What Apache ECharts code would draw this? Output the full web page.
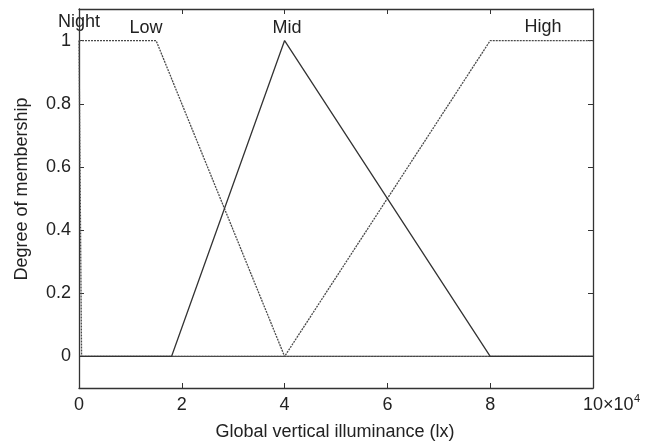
<!DOCTYPE html>
<html>
<head>
<meta charset="utf-8">
<script src="https://cdn.jsdelivr.net/npm/echarts@6/dist/echarts.min.js"></script>
<style>
  html, body { margin: 0; padding: 0; background: #fff; }
  #main { width: 653px; height: 444px; }
</style>
</head>
<body>
<div id="main"></div>
<script>
// membership functions, x in units of 10^4 lx
var nightPts = [[0, 1], [0.05, 0], [10, 0]];
var lowPts = [[0, 1], [1.5, 1], [4, 0], [10, 0]];
var midPts = [[0, 0], [1.8, 0], [4, 1], [8, 0], [10, 0]];
var highPts = [[0, 0], [4, 0], [8, 1], [10, 1]];
var yTicks = [0, 0.2, 0.4, 0.6, 0.8, 1];

var font = 'Liberation Sans, Arial, Helvetica, sans-serif';
var ink = '#222';

var chartDom = document.getElementById('main');
var myChart = echarts.init(chartDom);

function lineSeries(name, pts, dashed, z) {
  return {
    name: name,
    type: 'line',
    data: pts,
    symbol: 'none',
    z: z,
    animation: false,
    lineStyle: {
      color: dashed ? '#4a4a4a' : '#333',
      width: 1.3,
      type: dashed ? [2, 1] : 'solid'
    }
  };
}

function label(text, x, y) {
  return {
    type: 'text', x: x, y: y,
    style: { text: text, font: '18px ' + font, fill: ink, align: 'center', verticalAlign: 'middle' }
  };
}

var frame = { onZero: false, lineStyle: { color: '#333', width: 1.3 } };
var tick = { inside: true, length: 5, lineStyle: { color: '#333' } };

var option = {
  backgroundColor: '#fff',
  grid: { left: 79, right: 60, top: 9, bottom: 56 },
  xAxis: [
    {
      type: 'value', min: 0, max: 10, interval: 2,
      axisLine: frame, axisTick: tick,
      splitLine: { show: false },
      axisLabel: { margin: 8, fontFamily: font, fontSize: 18, color: ink }
    },
    {
      type: 'value', min: 0, max: 10, interval: 2, position: 'top',
      axisLine: frame, axisTick: tick,
      axisLabel: { show: false }, splitLine: { show: false }
    }
  ],
  yAxis: [
    {
      type: 'value', min: -0.1, max: 1.1,
      axisLine: { show: true, onZero: false, lineStyle: frame.lineStyle },
      axisTick: { show: true, inside: true, length: 5, customValues: yTicks, lineStyle: { color: '#333' } },
      axisLabel: { margin: 8, fontFamily: font, fontSize: 18, color: ink, customValues: yTicks },
      splitLine: { show: false }
    },
    {
      type: 'value', min: -0.1, max: 1.1, position: 'right',
      axisLine: { show: true, onZero: false, lineStyle: frame.lineStyle },
      axisTick: { show: true, inside: true, length: 5, customValues: yTicks, lineStyle: { color: '#333' } },
      axisLabel: { show: false }, splitLine: { show: false }
    }
  ],
  graphic: [
    {
      type: 'text', x: 22, y: 189, rotation: Math.PI / 2,
      style: { text: 'Degree of membership', font: '18px ' + font, fill: ink, align: 'center', verticalAlign: 'middle' }
    },
    label('Global vertical illuminance (lx)', 335, 432),
    { type: 'text', x: 603, y: 396, style: { text: '×10', font: '18px ' + font, fill: ink } },
    { type: 'text', x: 634, y: 393, style: { text: '4', font: '11px ' + font, fill: ink } },
    label('Night', 79, 22),
    label('Low', 146, 28),
    label('Mid', 287, 28),
    label('High', 543, 27)
  ],
  series: [
    lineSeries('Night', nightPts, true, 2),
    lineSeries('Low', lowPts, true, 2),
    lineSeries('High', highPts, true, 2),
    lineSeries('Mid', midPts, false, 3)
  ]
};

option && myChart.setOption(option);
</script>
</body>
</html>
